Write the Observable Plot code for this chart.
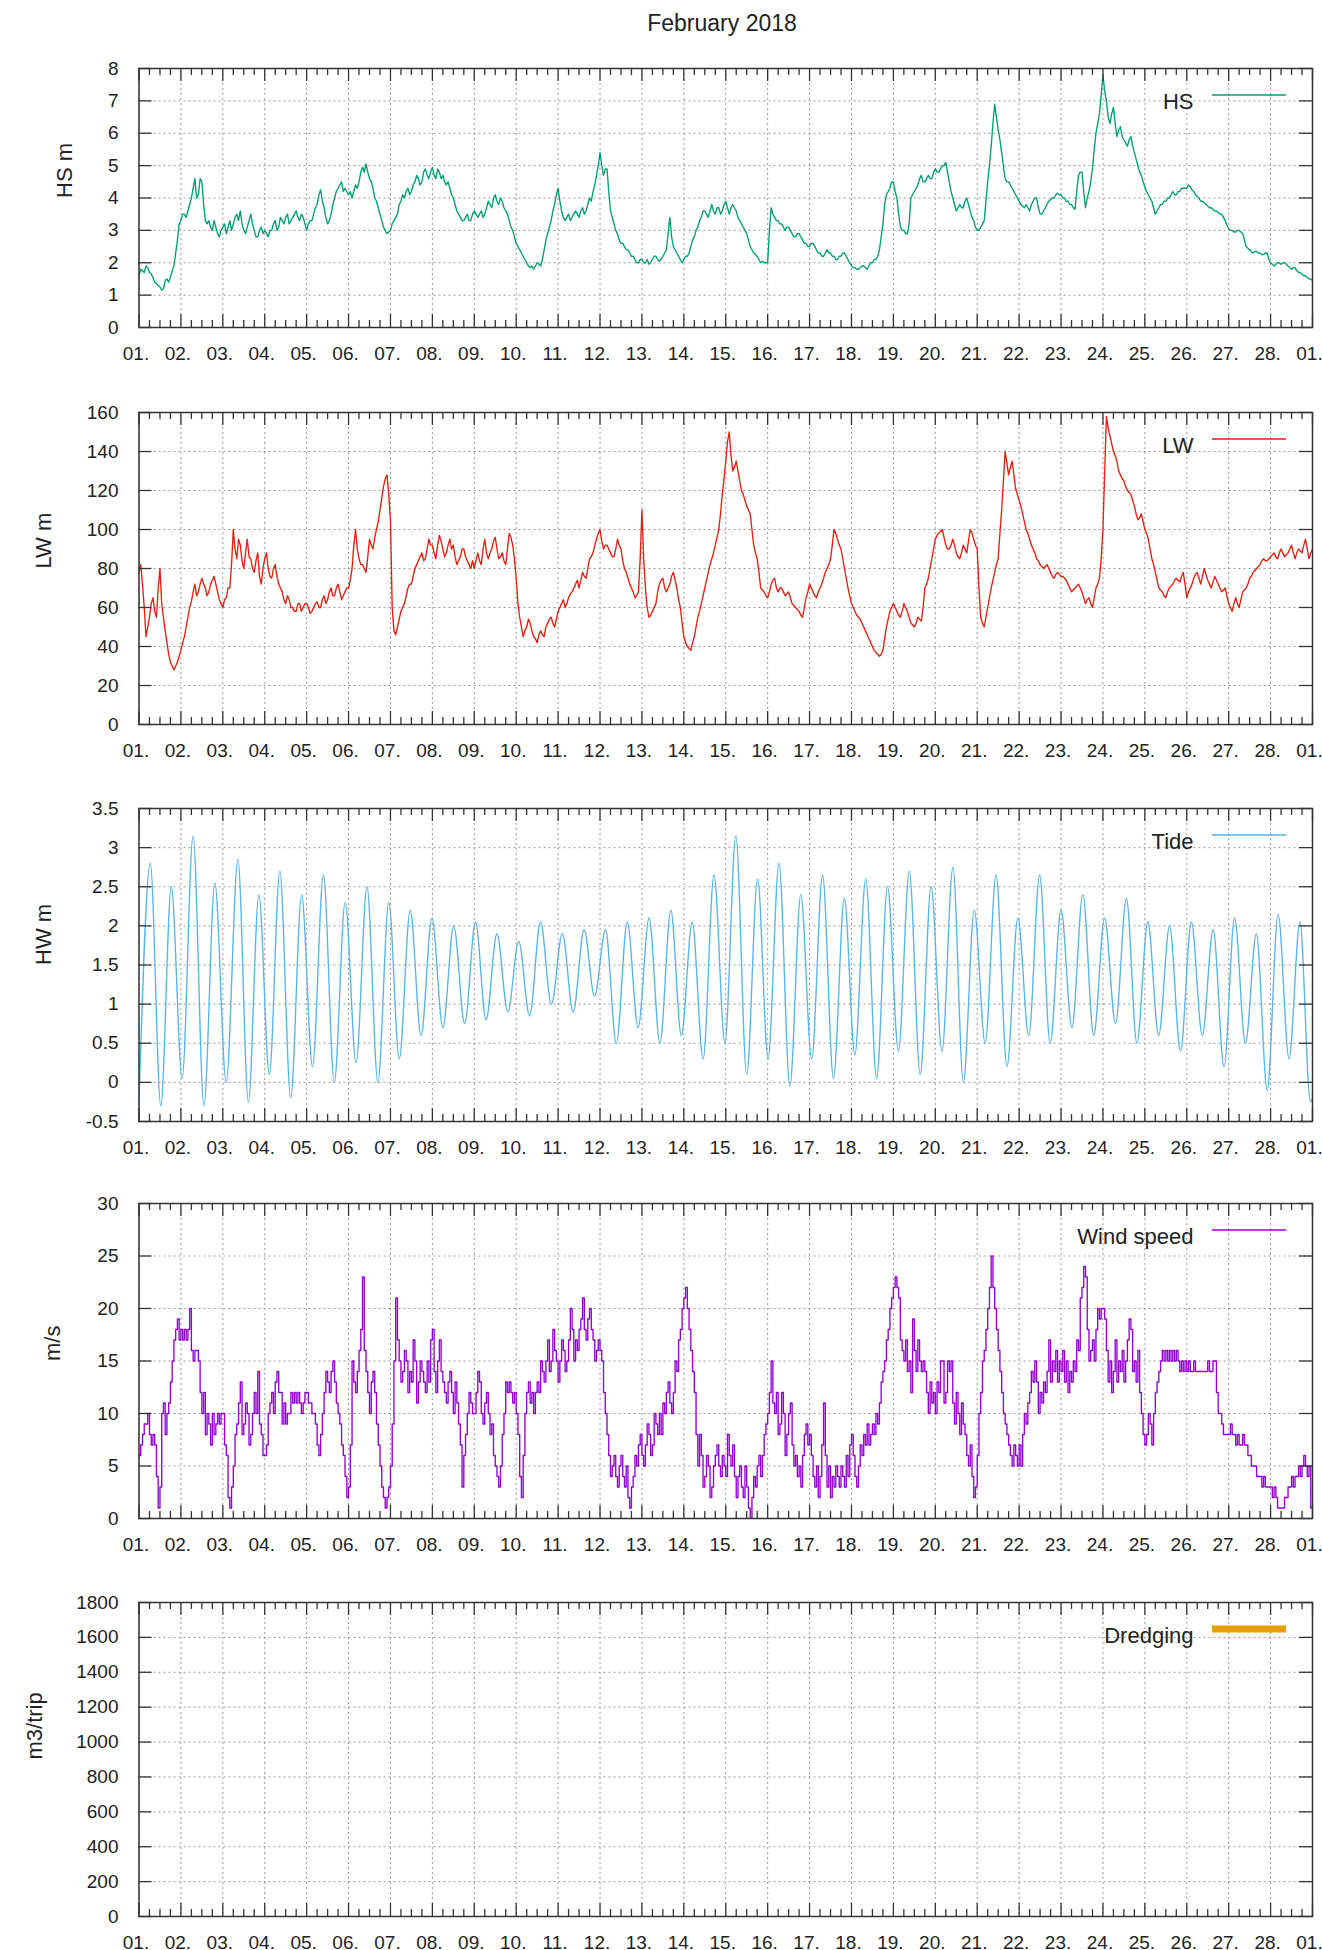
<!DOCTYPE html>
<html>
<head>
<meta charset="utf-8">
<script src="https://cdn.jsdelivr.net/npm/d3@7"></script>
<script src="https://cdn.jsdelivr.net/npm/@observablehq/plot@0.6"></script>
<style>
  body { margin: 0; background: #fff; }
  #wrap { position: relative; width: 1322px; height: 1950px; font-family: "Liberation Sans", Arial, Helvetica, sans-serif; color: #222; }
  #title { position: absolute; left: 522px; width: 400px; top: 12px; text-align: center; font-size: 23px; line-height: 23px; }
  #wrap svg { position: absolute; left: 0; }
</style>
</head>
<body>
<div id="wrap"><div id="title">February 2018</div></div>
<script>
// ---------- DATA ----------
// Series start 2018-02-01 00:00 UTC; one value every N hours.
const hsStepHours = 1;
const hsValues = [
1.6,1.8,1.75,1.7,1.9,1.85,1.7,1.65,1.55,1.4,1.35,1.3,1.25,1.15,1.2,1.45,1.5,1.4,1.55,1.75,1.9,2.3,2.7,3.2,
3.3,3.5,3.5,3.4,3.6,3.8,4.0,4.3,4.6,4.0,4.1,4.6,4.5,3.8,3.3,3.2,3.3,3.1,3.0,3.3,3.1,2.9,2.8,3.0,
3.1,3.2,2.9,3.1,3.3,3.0,3.2,3.4,3.5,3.3,3.6,3.2,3.0,2.9,3.1,3.3,3.5,3.2,3.0,2.8,2.8,3.0,3.1,2.9,
3.0,2.9,2.8,3.0,3.0,3.2,3.3,3.0,3.1,3.4,3.3,3.2,3.4,3.5,3.2,3.3,3.4,3.5,3.6,3.4,3.3,3.5,3.4,3.2,
3.0,3.2,3.3,3.3,3.5,3.7,3.8,4.1,4.25,3.9,3.7,3.4,3.2,3.3,3.5,3.8,4.0,4.2,4.3,4.4,4.5,4.2,4.3,4.2,
4.1,4.2,4.0,4.2,4.4,4.3,4.5,4.8,4.95,4.8,5.05,4.8,4.6,4.5,4.3,4.0,3.9,3.7,3.5,3.3,3.1,3.0,2.9,2.95,
3.0,3.2,3.3,3.4,3.5,3.8,3.9,4.1,4.0,4.2,4.3,4.1,4.2,4.4,4.5,4.7,4.6,4.4,4.5,4.8,4.9,4.7,4.6,4.8,
4.95,4.7,4.6,4.9,4.8,4.6,4.7,4.5,4.4,4.5,4.3,4.1,4.0,3.8,3.6,3.5,3.4,3.3,3.3,3.4,3.5,3.3,3.3,3.5,
3.6,3.5,3.4,3.5,3.6,3.4,3.5,3.7,3.9,3.8,3.7,4.0,4.1,3.9,3.8,4.0,3.9,3.7,3.6,3.5,3.3,3.1,3.0,2.8,
2.6,2.5,2.4,2.3,2.2,2.1,2.0,1.9,1.85,1.9,1.8,1.9,2.0,1.95,1.9,2.1,2.4,2.7,2.9,3.1,3.3,3.6,3.8,4.1,
4.3,3.9,3.6,3.4,3.3,3.4,3.5,3.3,3.4,3.5,3.6,3.5,3.4,3.6,3.7,3.5,3.6,3.8,4.0,3.9,4.2,4.4,4.7,5.0,
5.4,5.0,4.7,4.9,4.9,4.2,3.6,3.4,3.2,3.0,2.9,2.7,2.6,2.6,2.5,2.4,2.4,2.3,2.2,2.2,2.1,2.0,2.0,2.1,
2.1,2.0,2.0,2.1,1.95,2.0,2.1,2.2,2.2,2.1,2.05,2.1,2.2,2.3,2.4,2.9,3.4,2.8,2.5,2.4,2.3,2.2,2.1,2.0,
2.1,2.2,2.2,2.3,2.5,2.7,2.8,3.0,3.1,3.3,3.4,3.6,3.6,3.5,3.4,3.6,3.8,3.6,3.5,3.7,3.7,3.5,3.6,3.8,
3.9,3.7,3.5,3.7,3.8,3.7,3.6,3.4,3.3,3.2,3.1,3.0,2.9,2.7,2.5,2.4,2.3,2.25,2.2,2.1,2.0,2.05,2.0,2.0,
2.0,3.0,3.7,3.5,3.4,3.3,3.3,3.2,3.2,3.1,3.0,3.1,3.1,3.0,2.9,2.8,2.8,2.9,2.9,2.8,2.7,2.6,2.6,2.5,
2.5,2.6,2.6,2.5,2.4,2.3,2.3,2.2,2.2,2.3,2.4,2.3,2.3,2.2,2.2,2.1,2.1,2.2,2.2,2.3,2.3,2.2,2.1,2.0,
1.9,1.85,1.85,1.8,1.8,1.85,1.9,1.9,1.85,1.8,1.9,2.0,2.0,2.1,2.1,2.2,2.4,2.8,3.2,3.8,4.1,4.2,4.3,4.5,
4.5,4.2,4.0,3.5,3.1,3.0,3.0,2.9,2.9,3.2,4.0,4.1,4.2,4.3,4.4,4.6,4.7,4.5,4.5,4.6,4.7,4.6,4.6,4.8,
4.9,4.8,4.8,4.9,5.0,5.0,5.1,4.8,4.5,4.2,4.0,3.8,3.6,3.7,3.8,3.7,3.7,3.9,4.0,3.8,3.6,3.4,3.3,3.1,
3.0,3.0,3.1,3.2,3.3,3.9,4.5,5.0,5.6,6.3,6.9,6.5,6.1,5.8,5.4,5.0,4.6,4.5,4.5,4.4,4.3,4.2,4.1,4.0,
3.9,3.8,3.75,3.7,3.8,3.7,3.6,3.8,3.9,4.0,4.0,3.7,3.5,3.5,3.6,3.7,3.8,3.9,3.95,4.0,4.0,4.1,4.15,4.1,
4.1,4.0,4.0,3.9,3.9,3.8,3.8,3.7,3.65,4.2,4.7,4.8,4.8,4.2,3.7,4.0,4.2,4.5,4.9,5.5,6.0,6.3,6.6,7.2,
7.8,7.3,7.0,6.5,6.3,6.6,6.8,6.3,5.9,6.1,6.2,5.9,5.8,5.7,5.6,5.8,5.9,5.6,5.4,5.2,5.0,4.8,4.7,4.5,
4.35,4.2,4.1,4.0,3.9,3.7,3.5,3.6,3.7,3.8,3.8,3.9,3.9,4.0,4.0,4.1,4.2,4.1,4.1,4.2,4.2,4.3,4.3,4.3,
4.3,4.4,4.35,4.25,4.2,4.1,4.05,4.0,3.9,3.9,3.85,3.8,3.75,3.7,3.7,3.65,3.6,3.6,3.55,3.5,3.5,3.4,3.3,3.15,
3.05,3.0,3.0,2.95,2.95,3.0,3.0,2.95,2.9,2.7,2.5,2.45,2.4,2.35,2.3,2.35,2.35,2.3,2.3,2.25,2.25,2.3,2.3,2.1,
2.0,1.95,1.9,1.95,2.0,2.0,1.95,2.0,2.0,1.95,1.9,1.85,1.8,1.85,1.85,1.75,1.7,1.7,1.65,1.6,1.6,1.55,1.5,1.5,
1.45
];
const lwStepHours = 1;
const lwValues = [
78,82,72,60,45,50,55,62,65,58,55,70,80,62,55,48,42,36,32,30,28,30,32,35,
38,42,45,50,55,60,63,68,72,66,68,72,75,72,70,66,68,72,74,76,72,68,64,62,
60,64,65,70,70,82,100,90,85,95,92,84,80,88,95,86,85,80,78,84,88,76,72,80,
85,88,80,76,75,80,82,76,72,70,68,64,62,66,64,60,60,58,58,62,62,58,60,62,
62,60,57,58,60,62,63,60,60,64,66,62,64,68,70,66,66,70,72,68,64,66,68,70,
70,74,80,92,100,90,85,82,82,80,78,86,95,92,90,96,100,104,110,116,122,126,128,118,
105,60,48,46,50,54,58,60,62,66,70,72,72,76,80,82,84,86,88,84,85,90,95,92,
92,88,85,92,97,94,90,86,88,92,95,90,92,86,82,84,86,90,90,86,84,82,80,84,
80,84,88,84,82,90,95,88,85,88,90,94,96,90,85,86,88,84,82,90,98,96,92,85,
75,62,55,50,45,48,50,54,52,48,45,44,42,46,48,46,45,50,52,54,55,52,50,54,
58,60,62,64,60,62,65,67,68,70,72,74,70,74,78,76,75,80,85,86,88,92,95,98,
100,94,90,92,92,90,88,86,86,90,95,92,90,84,80,78,75,72,70,68,65,66,68,85,
110,85,70,60,55,56,58,60,62,68,72,74,75,70,68,70,72,76,78,74,70,64,60,52,
45,42,40,39,38,42,45,50,55,58,62,66,70,74,78,82,85,88,92,96,100,108,118,126,
135,145,150,138,130,132,135,130,125,120,118,115,112,110,108,100,92,88,85,78,70,69,68,66,
65,68,72,74,75,70,68,70,70,68,66,67,68,65,62,61,60,59,58,56,55,60,65,68,
72,70,68,66,65,68,70,72,75,78,80,82,85,92,100,98,95,92,90,85,80,75,70,66,
62,60,58,56,55,54,52,50,48,46,44,42,40,38,37,36,35,36,38,44,50,54,58,60,
62,60,58,56,55,58,62,60,58,55,52,51,50,52,55,54,53,60,70,72,75,80,85,90,
95,97,98,99,100,96,92,90,90,92,95,92,88,86,85,88,92,90,88,94,100,98,95,92,
90,70,55,52,50,55,60,65,70,74,78,82,85,98,110,125,140,134,128,132,135,128,121,118,
115,112,108,104,100,98,95,92,90,88,85,84,82,81,80,81,82,80,78,76,75,77,78,77,
76,76,75,74,72,70,68,69,70,71,72,70,68,65,62,64,65,62,60,65,70,72,75,85,
100,130,158,152,148,144,140,138,135,130,128,126,125,122,120,119,118,115,112,108,105,106,108,104,
100,98,95,90,85,82,78,74,70,69,68,66,65,68,70,71,72,74,75,74,73,76,78,72,
65,68,70,72,75,77,78,75,72,76,80,77,74,72,70,73,76,74,72,70,68,69,70,66,
62,60,58,62,65,62,60,64,68,69,70,72,75,76,78,79,80,81,82,84,85,84,84,85,
86,87,88,86,85,88,90,88,86,87,88,90,92,88,85,88,90,89,88,92,95,90,85,88,
90
];
// Tide: alternating high / low water [day offset, metres]
const tideExtremes = [
[0.0,-0.25],[0.27,2.8],[0.52,-0.3],[0.77,2.5],[1.03,0.05],[1.29,3.15],[1.55,-0.3],[1.81,2.55],[2.08,0.0],[2.36,2.85],[2.61,-0.25],[2.86,2.4],[3.11,0.1],[3.36,2.7],[3.62,-0.2],[3.88,2.4],[4.14,0.2],[4.40,2.65],[4.66,0.0],[4.92,2.3],[5.18,0.25],[5.44,2.5],[5.70,0.0],[5.96,2.3],[6.21,0.3],[6.47,2.2],[6.73,0.6],[6.99,2.1],[7.25,0.7],[7.51,2.0],[7.77,0.75],[8.03,2.05],[8.28,0.8],[8.54,1.9],[8.80,0.9],[9.06,1.8],[9.32,0.85],[9.58,2.05],[9.84,1.0],[10.10,1.9],[10.36,0.9],[10.62,1.95],[10.87,1.1],[11.13,1.95],[11.39,0.5],[11.65,2.05],[11.91,0.7],[12.17,2.1],[12.43,0.5],[12.69,2.2],[12.94,0.6],[13.20,2.05],[13.46,0.3],[13.72,2.65],[13.98,0.5],[14.24,3.15],[14.50,0.1],[14.76,2.6],[15.01,0.3],[15.27,2.8],[15.53,-0.05],[15.79,2.4],[16.05,0.3],[16.31,2.65],[16.57,0.05],[16.83,2.35],[17.08,0.35],[17.34,2.6],[17.60,0.05],[17.86,2.5],[18.12,0.4],[18.38,2.7],[18.64,0.1],[18.90,2.5],[19.16,0.4],[19.42,2.75],[19.67,0.0],[19.93,2.2],[20.19,0.5],[20.45,2.65],[20.71,0.2],[20.97,2.1],[21.23,0.6],[21.49,2.65],[21.74,0.5],[22.00,2.2],[22.26,0.7],[22.52,2.4],[22.78,0.6],[23.04,2.1],[23.30,0.75],[23.56,2.35],[23.81,0.5],[24.07,2.05],[24.33,0.6],[24.59,2.0],[24.85,0.4],[25.11,2.05],[25.37,0.6],[25.63,1.95],[25.89,0.2],[26.14,2.1],[26.40,0.5],[26.66,1.9],[26.92,-0.1],[27.18,2.15],[27.44,0.3],[27.70,2.05],[27.95,-0.25],[28.0,-0.2]
];
const windStepHours = 1;
const windValues = [
6,7,8,9,9,10,8,7,8,7,4,1,3,10,11,8,10,11,13,15,17,18,19,17,
18,17,18,17,18,20,16,15,16,16,15,12,10,12,8,10,9,7,10,8,9,10,9,10,
10,7,6,2,1,3,5,8,9,11,13,8,9,11,10,7,8,10,12,10,14,9,8,6,
6,7,10,11,12,10,13,14,12,12,9,11,9,10,10,12,11,12,11,12,11,10,11,12,
12,11,11,10,10,9,7,6,8,10,12,14,13,12,14,15,13,11,10,9,7,6,4,2,
3,7,15,13,12,14,16,18,23,16,14,12,10,13,14,12,9,7,5,3,2,1,2,3,
5,9,15,21,17,15,13,14,16,15,12,14,13,17,15,11,13,15,14,13,12,15,13,17,
18,14,12,15,17,14,13,12,11,13,14,12,10,13,11,9,7,3,6,8,10,12,11,10,
10,12,14,13,10,9,11,12,10,8,9,6,5,4,3,5,8,10,13,12,13,12,11,12,
10,8,4,2,6,10,12,13,11,12,10,12,13,12,15,14,13,15,17,14,15,18,16,15,
13,15,17,16,14,15,17,20,18,15,17,16,18,19,21,18,17,19,20,18,17,15,16,17,
16,15,12,10,8,6,4,5,6,4,3,5,6,4,3,5,2,1,3,4,6,5,7,8,
6,5,7,9,8,6,7,10,9,8,10,8,11,10,12,13,11,10,12,15,14,17,18,20,
21,22,20,18,16,14,12,8,5,8,6,3,4,6,5,2,3,5,6,7,5,4,6,5,
4,8,6,5,7,4,2,4,5,3,2,5,3,1,0,2,4,3,5,6,4,6,8,9,
10,12,15,11,10,12,8,9,12,10,6,8,10,11,7,5,6,4,5,3,6,8,9,7,
8,6,4,3,5,2,4,7,11,6,3,5,2,4,3,5,4,3,5,4,3,6,4,7,
8,6,4,3,5,7,6,8,7,9,7,8,9,8,10,9,11,13,14,15,17,18,20,21,
22,23,22,21,17,16,15,17,14,15,12,19,16,14,17,15,14,15,14,12,10,13,11,12,
10,13,12,15,15,11,12,15,14,15,11,9,12,10,8,11,9,8,6,5,7,4,2,3,
6,10,12,15,16,18,20,22,25,22,20,18,16,14,12,10,9,8,7,6,5,7,6,5,
7,5,8,10,9,11,12,14,13,15,13,10,12,11,13,12,14,17,13,15,14,16,13,15,
14,16,13,15,12,14,13,15,14,17,16,21,22,24,23,18,15,16,17,15,18,20,19,20,
20,19,16,13,15,12,14,17,13,15,14,16,13,15,17,19,18,14,15,13,16,12,10,8,
7,8,10,9,7,10,12,13,14,15,16,15,16,15,16,15,16,15,16,15,14,15,14,15,
14,15,14,14,15,14,14,14,14,14,14,14,15,14,14,15,15,12,10,10,9,8,8,8,
8,9,8,8,7,8,7,7,8,7,7,6,6,5,5,5,4,4,4,3,4,3,3,3,
3,2,3,2,1,1,1,1,2,2,3,3,4,3,4,4,5,4,5,6,5,4,5,1,
1
];
const dredgingValues = [];

const hsTicks = [0, 1, 2, 3, 4, 5, 6, 7, 8];
const lwTicks = [0, 20, 40, 60, 80, 100, 120, 140, 160];
const tideTicks = [-0.5, 0, 0.5, 1, 1.5, 2, 2.5, 3, 3.5];
const windTicks = [0, 5, 10, 15, 20, 25, 30];
const dredgeTicks = [0, 200, 400, 600, 800, 1000, 1200, 1400, 1600, 1800];

// ---------- RENDERING ----------
const FONT = '"Liberation Sans", Arial, Helvetica, sans-serif';
const T0 = Date.UTC(2018, 1, 1);
const start = new Date(T0), end = new Date(Date.UTC(2018, 2, 1));
const fromHours = (vals, step) => vals.map((v, i) => ({t: new Date(T0 + i * step * 36e5), v}));
const fromDays = rows => rows.map(([d, v]) => ({t: new Date(T0 + d * 864e5), v}));
const dayTicks = d3.utcDay.range(start, new Date(+end + 1));
const minorTicks = d3.utcHour.every(6).range(start, end).filter(d => d.getUTCHours() !== 0);

const W = 1322, ML = 138.5, MR = 10, MT = 20;
const PW = W - ML - MR;

function legendLine(color, width) {
  return (index, scales, values, dims) => {
    const y = dims.marginTop + 27;
    return d3.create("svg:line")
      .attr("x1", dims.width - dims.marginRight - 100)
      .attr("x2", dims.width - dims.marginRight - 26)
      .attr("y1", y).attr("y2", y)
      .attr("stroke", color).attr("stroke-width", width).node();
  };
}

function panel(p) {
  const mb = p.mb ?? 45;
  const tick = {stroke: "#333", strokeWidth: 1.3};
  const grid = {stroke: "#9a9a9a", strokeOpacity: 1, strokeWidth: 1, strokeDasharray: "2,3"};
  const marks = [
    Plot.gridX(dayTicks, grid),
    Plot.gridY(p.ticks, grid)
  ];
  if (p.data.length) {
    marks.push(Plot.line(p.data, {x: "t", y: "v", stroke: p.color, strokeWidth: 1.35, curve: p.curve || "linear", clip: true}));
  }
  marks.push(
    Plot.ruleX(dayTicks, {insetTop: p.h - 13, ...tick}),
    Plot.ruleX(dayTicks, {insetBottom: p.h - 13, ...tick}),
    Plot.ruleX(minorTicks, {insetTop: p.h - 7, ...tick}),
    Plot.ruleX(minorTicks, {insetBottom: p.h - 7, ...tick}),
    Plot.ruleY(p.ticks, {insetRight: PW - 13, ...tick}),
    Plot.ruleY(p.ticks, {insetLeft: PW - 13, ...tick}),
    Plot.axisX(dayTicks, {tickSize: 0, tickPadding: 19, dx: -3, tickFormat: d3.utcFormat("%d."), fontSize: 19, label: null}),
    Plot.axisY(p.ticks, {tickSize: 0, tickPadding: 20.5, tickFormat: d => String(d), fontSize: 19, label: null}),
    Plot.frame({stroke: "#333", strokeWidth: 1.5}),
    Plot.text([p.ylabel], {frameAnchor: "left", dx: p.labelX - ML, rotate: -90, fontSize: 22, text: d => d}),
    Plot.text([p.name], {frameAnchor: "top-right", dx: -(1312 - 1193), dy: 25, textAnchor: "end", fontSize: 22, text: d => d}),
    legendLine(p.color, p.legendWidth || 1.5)
  );
  const svg = Plot.plot({
    width: W, height: MT + p.h + mb,
    marginLeft: ML, marginRight: MR, marginTop: MT, marginBottom: mb,
    style: {fontFamily: FONT, fontSize: "19px", color: "#222", background: "transparent", overflow: "visible"},
    x: {type: "utc", domain: [start, end], label: null},
    y: {domain: p.domain, label: null},
    marks
  });
  svg.style.top = p.top + "px";
  document.getElementById("wrap").appendChild(svg);
}

panel({name: "HS", ylabel: "HS m", data: fromHours(hsValues, hsStepHours), color: "#009e73", top: 48, h: 259, domain: [0, 8], ticks: hsTicks, labelX: 64});
panel({name: "LW", ylabel: "LW m", data: fromHours(lwValues, lwStepHours), color: "#e51e10", top: 392, h: 312, domain: [0, 160], ticks: lwTicks, labelX: 43});
panel({name: "Tide", ylabel: "HW m", data: fromDays(tideExtremes), color: "#56b4e9", top: 788, h: 313, domain: [-0.5, 3.5], ticks: tideTicks, labelX: 43, curve: "monotone-x"});
panel({name: "Wind speed", ylabel: "m/s", data: fromHours(windValues, windStepHours), color: "#9400d3", top: 1183, h: 315, domain: [0, 30], ticks: windTicks, labelX: 52, curve: "step-after"});
panel({name: "Dredging", ylabel: "m3/trip", data: dredgingValues, color: "#e69f00", top: 1582, h: 314, domain: [0, 1800], ticks: dredgeTicks, labelX: 34, mb: 34, legendWidth: 7});
</script>
</body>
</html>
